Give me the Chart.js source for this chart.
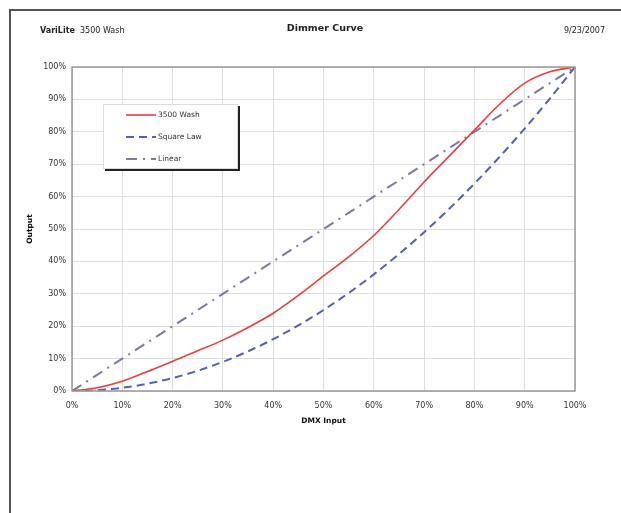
<!DOCTYPE html>
<html>
<head>
<meta charset="utf-8">
<script src="https://cdn.jsdelivr.net/npm/chart.js@4.4.1/dist/chart.umd.min.js"></script>
<style>
  html, body { margin: 0; padding: 0; background: #fff; }
  #wrap { position: relative; width: 621px; height: 513px; overflow: hidden; font-family: "DejaVu Sans", Verdana, sans-serif; }
  #frame { position: absolute; left: 9px; top: 9px; width: 640px; height: 600px; border-left: 2px solid #555; border-top: 2px solid #555; }
  .hdr { position: absolute; font-size: 8px; color: #222; white-space: nowrap; }
  #legend { position: absolute; left: 103px; top: 104px; width: 133px; height: 63px; background: #fff;
            border: 1px solid #ddd; box-shadow: 2px 2px 0 #222; font-size: 7.5px; color: #333; }
  #legend .item { position: absolute; left: 22px; height: 10px; line-height: 10px; }
  #legend svg { vertical-align: middle; margin-right: 2px; }
  canvas { position: absolute; left: 0; top: 0; }
</style>
</head>
<body>
<div id="wrap">
  <canvas id="curveChart" width="621" height="513"></canvas>
  <div id="frame"></div>
  <div class="hdr" style="left:40px; top:26px;"><b>VariLite</b>&nbsp; 3500 Wash</div>
  <div class="hdr" style="left:0; width:650px; top:22px; text-align:center; font-size:9.5px; font-weight:bold;">Dimmer Curve</div>
  <div class="hdr" style="right:16px; top:26px;">9/23/2007</div>
  <div id="legend"></div>
</div>
<script>
// DMX 输入 (%)
const dmxInput = [0, 5, 10, 15, 20, 25, 30, 35, 40, 45, 50, 55, 60, 65, 70, 75, 80, 85, 90, 95, 100];
// 3500 Wash 实测输出 (%)
const washOutput = [0, 1, 3, 6, 9.2, 12.4, 15.7, 19.6, 24, 29.5, 35.5, 41.4, 48, 56, 64.5, 72.5, 80.5, 88.5, 95, 98.5, 100];
// 平方律参考
const squareLaw = [0, 0.25, 1, 2.25, 4, 6.25, 9, 12.25, 16, 20.25, 25, 30.25, 36, 42.25, 49, 56.25, 64, 72.25, 81, 90.25, 100];
// 线性参考
const linearRef = [0, 5, 10, 15, 20, 25, 30, 35, 40, 45, 50, 55, 60, 65, 70, 75, 80, 85, 90, 95, 100];
const seriesNames = ['3500 Wash', 'Square Law', 'Linear'];
const axisTicks = [0, 10, 20, 30, 40, 50, 60, 70, 80, 90, 100];

const toPoints = vals => vals.map((v, i) => ({ x: dmxInput[i], y: v }));
const tickFont = { family: '"DejaVu Sans", Verdana, sans-serif', size: 8 };
const titleFont = { family: '"DejaVu Sans", Verdana, sans-serif', size: 7.5, weight: 'bold' };

// 绘图区外框
const plotBorder = {
    id: 'plotBorder',
    afterDraw(chart) {
        const a = chart.chartArea;
        const ctx = chart.ctx;
        ctx.save();
        ctx.strokeStyle = '#999';
        ctx.lineWidth = 1.5;
        ctx.strokeRect(a.left, a.top, a.right - a.left, a.bottom - a.top);
        ctx.restore();
    }
};

const chart = new Chart(document.getElementById('curveChart'), {
    type: 'line',
    data: {
        datasets: [
            {
                label: seriesNames[0],
                data: toPoints(washOutput),
                borderColor: '#e8403c',
                borderWidth: 1.6,
                pointRadius: 0,
                cubicInterpolationMode: 'monotone'
            },
            {
                label: seriesNames[1],
                data: toPoints(squareLaw),
                borderColor: '#5560ad',
                borderWidth: 2,
                borderDash: [8, 5],
                pointRadius: 0,
                cubicInterpolationMode: 'monotone'
            },
            {
                label: seriesNames[2],
                data: toPoints(linearRef),
                borderColor: '#85779c',
                borderWidth: 2,
                borderDash: [11, 6, 2, 6],
                pointRadius: 0
            }
        ]
    },
    options: {
        responsive: false,
        animation: false,
        layout: { padding: { left: 0, right: 46, top: 67, bottom: 82 } },
        plugins: {
            legend: { display: false },
            tooltip: { enabled: false }
        },
        scales: {
            x: {
                type: 'linear',
                min: 0,
                max: 100,
                afterBuildTicks: s => { s.ticks = axisTicks.map(v => ({ value: v })); },
                ticks: { callback: v => v + '%', font: tickFont, color: '#333', padding: 10, maxRotation: 0 },
                grid: { color: '#dedede', lineWidth: 1, drawTicks: false },
                border: { display: false },
                title: { display: true, text: 'DMX Input', font: titleFont, color: '#111', padding: { top: 4, bottom: 5 } },
                afterFit: s => { s.height = 40; }
            },
            y: {
                type: 'linear',
                min: 0,
                max: 100,
                afterBuildTicks: s => { s.ticks = axisTicks.map(v => ({ value: v })); },
                ticks: { callback: v => v + '%', font: tickFont, color: '#333', padding: 6 },
                grid: { color: '#dedede', lineWidth: 1, drawTicks: false },
                border: { display: false },
                title: { display: true, text: 'Output', font: titleFont, color: '#111', padding: { top: 26, bottom: 0 } },
                afterFit: s => { s.width = 72; }
            }
        }
    },
    plugins: [plotBorder]
});

// 图例：根据数据集样式生成
const legendEl = document.getElementById('legend');
const rowTops = [5, 27, 49];
chart.data.datasets.forEach((ds, i) => {
    const dash = ds.borderDash ? ds.borderDash.join(',') : 'none';
    const row = document.createElement('div');
    row.className = 'item';
    row.style.top = rowTops[i] + 'px';
    row.innerHTML = '<svg width="30" height="6"><line x1="0" y1="3" x2="30" y2="3" stroke="' + ds.borderColor +
        '" stroke-width="' + ds.borderWidth + '" stroke-dasharray="' + dash + '"/></svg>' + ds.label;
    legendEl.appendChild(row);
});
</script>
</body>
</html>
